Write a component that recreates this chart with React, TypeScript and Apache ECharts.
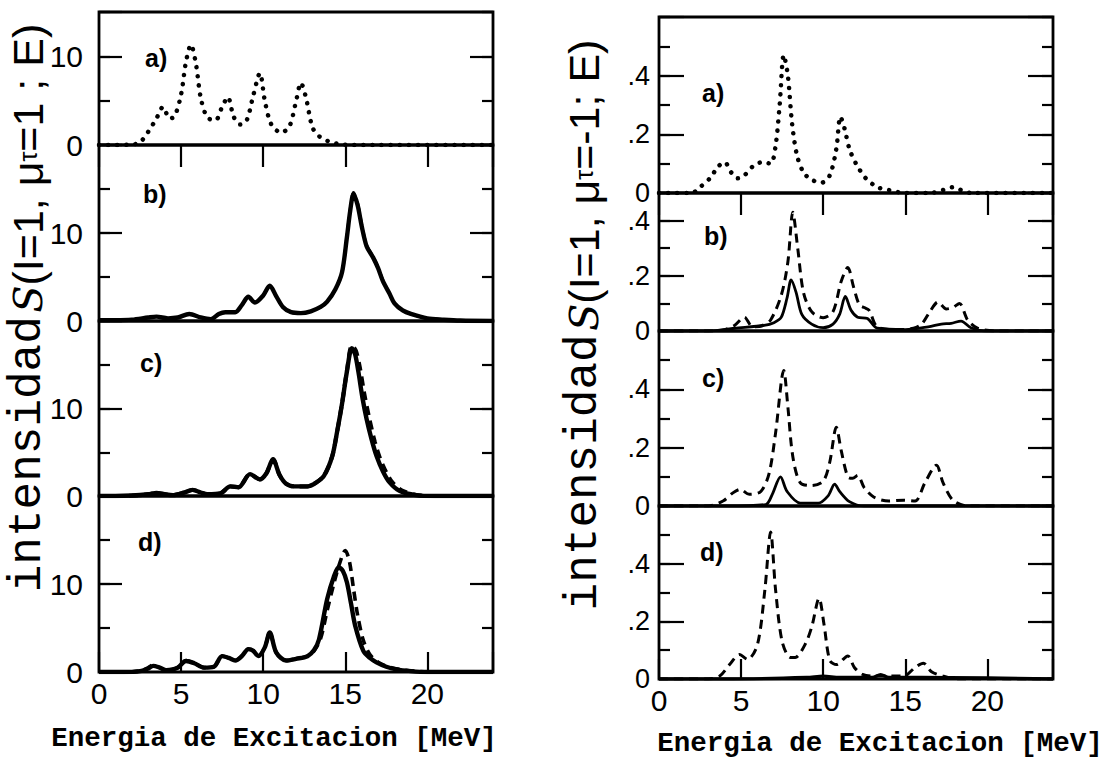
import React, { useEffect, useRef } from "react";
import * as echarts from "echarts";

// ---------- data (E in MeV, intensity) ----------
const X_TICK_LABELS = ["0", "5", "10", "15", "20"];
const LEFT_Y_LABELS = ["0", "10"];
const RIGHT_Y_LABELS = ["0", ".2", ".4"];
const PANEL_TAGS = ["a)", "b)", "c)", "d)"];
const X_TITLE = "Energia de Excitacion [MeV]";

// left column: mu_tau = 1
const leftA_dotted = [
  [0, 0], [1, 0], [2, 0.05], [2.5, 0.3], [3, 1.5], [3.5, 3.0], [3.9, 4.3], [4.3, 3.0], [4.6, 3.2],
  [5.0, 5.7], [5.3, 9.4], [5.6, 11.3], [5.9, 9.2], [6.2, 5.3], [6.6, 3.1], [7.1, 2.8], [7.5, 4.3],
  [7.85, 5.4], [8.2, 3.2], [8.6, 2.3], [9.0, 2.8], [9.4, 5.6], [9.8, 8.1], [10.1, 5.0], [10.5, 2.3],
  [11.1, 1.4], [11.6, 2.1], [12.0, 4.9], [12.3, 7.0], [12.6, 5.4], [13.0, 2.0], [13.4, 1.0],
  [14.0, 0.4], [14.7, 0.1], [15.5, 0], [24, 0],
];
const leftB_solid = [
  [0, 0.1], [1, 0.1], [2, 0.15], [3, 0.4], [3.5, 0.5], [4.2, 0.3], [4.8, 0.4], [5.5, 0.8], [6.2, 0.4],
  [6.8, 0.2], [7.3, 0.8], [7.7, 1.0], [8.3, 1.0], [8.7, 1.8], [9.1, 2.75], [9.5, 2.1], [10.0, 2.9],
  [10.4, 4.0], [10.8, 2.8], [11.2, 1.6], [11.7, 1.0], [12.3, 0.9], [12.9, 1.1], [13.5, 1.6], [13.9, 2.2],
  [14.4, 3.6], [14.8, 5.5], [15.1, 9.5], [15.3, 12.5], [15.5, 14.4], [15.75, 13.2], [16.0, 10.8],
  [16.3, 8.5], [16.7, 7.2], [17.0, 6.0], [17.3, 4.5], [17.7, 3.1], [18.0, 2.0], [18.5, 1.2], [19.0, 0.8],
  [20.0, 0.3], [21, 0.15], [22, 0.05], [24, 0],
];
const leftB_dashed = [
  [0, 0.1], [1, 0.1], [2, 0.15], [3, 0.4], [3.5, 0.5], [4.2, 0.3], [4.8, 0.4], [5.5, 0.8], [6.2, 0.4],
  [6.8, 0.2], [7.3, 0.8], [7.7, 1.0], [8.3, 1.0], [8.7, 1.8], [9.1, 2.75], [9.5, 2.1], [10.0, 2.9],
  [10.4, 4.0], [10.8, 2.8], [11.2, 1.6], [11.7, 1.0], [12.3, 0.9], [12.9, 1.1], [13.5, 1.6], [13.9, 2.2],
  [14.4, 3.6], [14.8, 5.5], [15.1, 9.6], [15.3, 12.7], [15.5, 14.6], [15.75, 13.4], [16.0, 11.0],
  [16.3, 8.6], [16.7, 7.3], [17.0, 6.1], [17.3, 4.6], [17.7, 3.1], [18.0, 2.0], [18.5, 1.2], [19.0, 0.8],
  [20.0, 0.3], [21, 0.15], [22, 0.05], [24, 0],
];
const leftC_solid = [
  [0, 0], [1, 0], [2, 0.05], [3, 0.2], [3.5, 0.35], [4.0, 0.2], [4.5, 0.1], [5.2, 0.4], [5.7, 0.7],
  [6.2, 0.4], [6.6, 0.2], [7.4, 0.3], [8.0, 1.1], [8.5, 1.0], [9.2, 2.5], [9.8, 1.9], [10.2, 2.6],
  [10.6, 4.2], [11.0, 2.4], [11.4, 1.4], [11.9, 1.1], [12.7, 1.1], [13.2, 1.5], [13.7, 2.3], [14.2, 4.5],
  [14.5, 7.3], [14.8, 10.5], [15.1, 14.2], [15.4, 16.9], [15.6, 16.2], [15.8, 14.2], [16.05, 11.2],
  [16.3, 8.8], [16.6, 6.5], [16.9, 4.6], [17.3, 2.8], [17.7, 1.55], [18.3, 0.6], [19.3, 0.1], [20.5, 0],
  [24, 0],
];
const leftC_dashed = [
  [0, 0], [1, 0], [2, 0.05], [3, 0.2], [3.5, 0.35], [4.0, 0.2], [4.5, 0.1], [5.2, 0.4], [5.7, 0.7],
  [6.2, 0.4], [6.6, 0.2], [7.4, 0.3], [8.0, 1.1], [8.5, 1.0], [9.2, 2.5], [9.8, 1.9], [10.2, 2.6],
  [10.6, 4.2], [11.0, 2.4], [11.4, 1.4], [11.9, 1.1], [12.7, 1.1], [13.2, 1.5], [13.7, 2.3], [14.2, 4.5],
  [14.5, 7.3], [14.8, 10.5], [15.1, 14.3], [15.4, 17.2], [15.65, 16.6], [15.9, 14.6], [16.15, 11.8],
  [16.45, 9.0], [16.8, 6.2], [17.1, 4.4], [17.5, 2.7], [17.9, 1.5], [18.5, 0.6], [19.4, 0.1], [20.5, 0],
  [24, 0],
];
const leftD_solid = [
  [0, 0], [1.5, 0], [2.5, 0.1], [3.0, 0.4], [3.3, 0.7], [3.7, 0.5], [4.1, 0.2], [4.5, 0.3], [4.8, 0.5],
  [5.3, 1.25], [5.8, 1.0], [6.4, 0.5], [7.0, 0.6], [7.5, 1.8], [7.9, 1.6], [8.3, 1.3], [8.7, 1.8],
  [9.1, 2.6], [9.4, 2.4], [9.7, 1.8], [10.1, 2.8], [10.4, 4.5], [10.8, 2.2], [11.4, 1.3], [12.0, 1.5],
  [12.7, 1.8], [13.1, 2.5], [13.4, 3.7], [13.9, 8.3], [14.3, 10.8], [14.6, 11.9], [14.85, 11.5],
  [15.1, 10.2], [15.35, 7.8], [15.6, 5.3], [16.1, 2.4], [16.5, 1.6], [16.9, 1.1], [17.5, 0.6],
  [18.1, 0.3], [19, 0.1], [20, 0], [24, 0],
];
const leftD_dashed = [
  [0, 0], [1.5, 0], [2.5, 0.1], [3.0, 0.5], [3.3, 0.8], [3.7, 0.5], [4.1, 0.2], [4.5, 0.3], [4.8, 0.5],
  [5.3, 1.3], [5.8, 1.0], [6.4, 0.5], [7.0, 0.6], [7.5, 1.8], [7.9, 1.6], [8.3, 1.3], [8.7, 1.8],
  [9.1, 2.6], [9.4, 2.4], [9.7, 1.8], [10.1, 2.8], [10.4, 4.5], [10.8, 2.2], [11.4, 1.3], [12.0, 1.5],
  [12.7, 1.8], [13.1, 2.4], [13.5, 3.8], [13.9, 7.0], [14.3, 10.0], [14.65, 12.3], [15.0, 13.8],
  [15.25, 12.6], [15.5, 9.5], [15.75, 6.5], [16.1, 3.6], [16.5, 2.0], [17.0, 1.1], [17.6, 0.6],
  [18.3, 0.3], [19.2, 0.1], [20, 0], [24, 0],
];

// right column: mu_tau = -1
const rightA_dotted = [
  [0, 0], [1, 0], [2, 0], [2.5, 0.02], [3.1, 0.05], [3.6, 0.09], [4.0, 0.105], [4.4, 0.07], [4.8, 0.05],
  [5.2, 0.06], [5.8, 0.095], [6.3, 0.105], [6.8, 0.1], [7.1, 0.16], [7.35, 0.3], [7.6, 0.47], [7.85, 0.4],
  [8.1, 0.24], [8.4, 0.13], [8.8, 0.07], [9.3, 0.045], [9.9, 0.035], [10.4, 0.06], [10.8, 0.15],
  [11.05, 0.26], [11.3, 0.22], [11.6, 0.15], [12.0, 0.1], [12.6, 0.05], [13.3, 0.02], [14, 0.01],
  [15, 0], [16.5, 0], [17.3, 0.01], [17.9, 0.02], [18.4, 0.01], [19, 0], [24, 0],
];
const rightB_dashed = [
  [0, 0], [3, 0], [4.0, 0.005], [4.6, 0.02], [5.2, 0.05], [5.7, 0.015], [6.3, 0.02], [6.8, 0.04],
  [7.45, 0.13], [7.85, 0.25], [8.15, 0.43], [8.45, 0.3], [8.8, 0.14], [9.3, 0.07], [10.0, 0.048],
  [10.6, 0.07], [11.1, 0.18], [11.5, 0.23], [11.85, 0.16], [12.2, 0.095], [12.5, 0.085], [12.8, 0.075],
  [13.3, 0.015], [14.5, 0.005], [15.5, 0.01], [16.0, 0.025], [16.5, 0.07], [17.0, 0.105], [17.5, 0.08],
  [17.9, 0.085], [18.3, 0.1], [18.8, 0.04], [19.4, 0.01], [20.5, 0], [24, 0],
];
const rightB_solid = [
  [0, 0], [3, 0], [4.6, 0.01], [6.4, 0.02], [7.0, 0.03], [7.45, 0.05], [7.8, 0.12], [8.05, 0.185],
  [8.35, 0.14], [8.7, 0.06], [9.3, 0.025], [10.0, 0.012], [10.6, 0.025], [11.0, 0.06], [11.35, 0.125],
  [11.7, 0.075], [12.1, 0.05], [12.7, 0.045], [13.3, 0.01], [15, 0.005], [16.4, 0.015], [17.2, 0.025],
  [17.8, 0.028], [18.4, 0.036], [19.0, 0.012], [20, 0], [24, 0],
];
const rightC_dashed = [
  [0, 0], [3, 0], [3.9, 0.017], [4.5, 0.045], [4.95, 0.057], [5.5, 0.04], [6.2, 0.05], [6.7, 0.11],
  [7.1, 0.25], [7.6, 0.465], [7.85, 0.34], [8.15, 0.17], [8.6, 0.08], [9.3, 0.07], [10.0, 0.085],
  [10.4, 0.15], [10.8, 0.27], [11.1, 0.19], [11.5, 0.1], [11.8, 0.095], [12.1, 0.105], [12.5, 0.063],
  [13.1, 0.03], [14.0, 0.017], [14.9, 0.02], [15.6, 0.017], [16.2, 0.08], [16.9, 0.14], [17.3, 0.08],
  [17.9, 0.02], [18.8, 0], [24, 0],
];
const rightC_solid = [
  [0, 0], [4, 0], [6.5, 0.005], [6.9, 0.04], [7.4, 0.1], [7.8, 0.05], [8.6, 0.01], [9.7, 0.01],
  [10.3, 0.035], [10.7, 0.075], [11.0, 0.05], [11.6, 0.015], [12.5, 0], [24, 0],
];
const rightD_dashed = [
  [0, 0], [3, 0], [3.7, 0.01], [4.3, 0.05], [4.9, 0.085], [5.4, 0.068], [6.0, 0.12], [6.45, 0.31],
  [6.8, 0.51], [7.1, 0.31], [7.5, 0.13], [8.0, 0.075], [8.3, 0.075], [8.9, 0.12], [9.3, 0.18],
  [9.75, 0.28], [10.05, 0.19], [10.4, 0.065], [10.8, 0.05], [11.5, 0.08], [11.9, 0.04], [12.4, 0.016],
  [13.2, 0.01], [14.9, 0.01], [15.6, 0.04], [16.1, 0.055], [16.6, 0.025], [17.3, 0.01], [18.2, 0], [24, 0],
];
const rightD_solid = [
  [0, 0], [4, 0], [9, 0.005], [10, 0.01], [11, 0.005], [13, 0.005], [13.5, 0.015], [14, 0.005],
  [16, 0.005], [24, 0],
];

// ---------- layout ----------
const PANEL_W = 394;
const panels = [
  { left: 99, top: 12, height: 133, max: 15, minor: 5, major: 10, col: 0 },
  { left: 99, top: 145, height: 176, max: 20, minor: 5, major: 10, col: 0 },
  { left: 99, top: 321, height: 175, max: 20, minor: 5, major: 10, col: 0 },
  { left: 99, top: 496, height: 176, max: 20, minor: 5, major: 10, col: 0 },
  { left: 659, top: 17, height: 176, max: 0.6, minor: 0.1, major: 0.2, col: 1 },
  { left: 659, top: 193, height: 138, max: 0.5, minor: 0.1, major: 0.2, col: 1 },
  { left: 659, top: 331, height: 175, max: 0.6, minor: 0.1, major: 0.2, col: 1 },
  { left: 659, top: 506, height: 173, max: 0.6, minor: 0.1, major: 0.2, col: 1 },
];
const tagPos = [
  [145, 58], [143, 194], [140, 363], [138, 542],
  [702, 93], [704, 236], [702, 378], [700, 552],
];

const SANS = "'Liberation Sans', Arial, sans-serif";
const MONO = "'Liberation Mono', 'DejaVu Sans Mono', monospace";

function yLabel(col: number) {
  return (v: number) => {
    if (col === 0) {
      const s = String(Math.round(v));
      return LEFT_Y_LABELS.includes(s) && Math.abs(v - Math.round(v)) < 1e-6 ? s : "";
    }
    const r = Math.round(v * 10);
    if (Math.abs(v * 10 - r) > 1e-6) return "";
    const s = r === 0 ? "0" : "." + r;
    return RIGHT_Y_LABELS.includes(s) ? s : "";
  };
}

function buildOption() {
  const grid: any[] = [];
  const xAxis: any[] = [];
  const yAxis: any[] = [];
  const series: any[] = [];
  const tick = (len: number) => ({
    show: true, inside: true, length: len, lineStyle: { color: "#000", width: 2.2 },
  });

  panels.forEach((p, i) => {
    grid.push({
      left: p.left, top: p.top, width: PANEL_W, height: p.height,
      show: true, borderColor: "#000", borderWidth: 2.8, backgroundColor: "transparent",
    });
    const isBottom = i % 4 === 3;
    xAxis.push({
      gridIndex: i, type: "value", min: 0, max: 24, interval: 5,
      axisLine: { show: false }, splitLine: { show: false },
      axisTick: isBottom ? tick(20) : { show: false },
      axisLabel: {
        show: isBottom, margin: 6, color: "#000", fontFamily: SANS, fontSize: 30,
        formatter: (v: number) => (v % 5 === 0 && X_TICK_LABELS[v / 5]) || "",
      },
    });
    const longLen = p.col === 0 ? 23 : 25;
    const shortLen = 11;
    const base = {
      gridIndex: i, type: "value", min: 0, max: p.max,
      axisLine: { show: false }, splitLine: { show: false },
    };
    // left minor (with labels)
    yAxis.push({
      ...base, position: "left", interval: p.minor, axisTick: tick(shortLen),
      axisLabel: {
        show: true, margin: p.col === 0 ? 16 : 9, color: "#000", fontFamily: SANS,
        fontSize: p.col === 0 ? 30 : 27, lineHeight: 22,
        formatter: yLabel(p.col), showMinLabel: true, showMaxLabel: true,
      },
    });
    // left major
    yAxis.push({ ...base, position: "left", interval: p.major, axisTick: tick(longLen), axisLabel: { show: false } });
    // right minor / major
    yAxis.push({ ...base, position: "right", interval: p.minor, axisTick: tick(shortLen), axisLabel: { show: false } });
    yAxis.push({ ...base, position: "right", interval: p.major, axisTick: tick(longLen), axisLabel: { show: false } });
  });
  // top ticks on the upper panels
  [0, 4].forEach((g) => {
    xAxis.push({
      gridIndex: g, type: "value", min: 0, max: 24, interval: 5, position: "top",
      axisLine: { show: false }, splitLine: { show: false },
      axisTick: tick(22), axisLabel: { show: false },
    });
  });

  const dotted = { type: [0.1, 9], cap: "round", width: 4.5, color: "#000" };
  const dashed = { type: [9, 6], width: 3, color: "#000" };
  const solidL = { type: "solid", width: 4.4, color: "#000" };
  const solidR = { type: "solid", width: 2.8, color: "#000" };
  const add = (g: number, data: number[][], ls: any) =>
    series.push({
      type: "line", xAxisIndex: g, yAxisIndex: g * 4, data, showSymbol: false, symbol: "none",
      smooth: 0.3, lineStyle: ls, silent: true, clip: true,
    });

  add(0, leftA_dotted, dotted);
  add(1, leftB_dashed, dashed);
  add(1, leftB_solid, solidL);
  add(2, leftC_dashed, { ...dashed, width: 4 });
  add(2, leftC_solid, solidL);
  add(3, leftD_dashed, { ...dashed, width: 3.6 });
  add(3, leftD_solid, solidL);
  add(4, rightA_dotted, dotted);
  add(5, rightB_dashed, dashed);
  add(5, rightB_solid, solidR);
  add(6, rightC_dashed, dashed);
  add(6, rightC_solid, solidR);
  add(7, rightD_dashed, dashed);
  add(7, rightD_solid, { ...solidR, width: 3.4 });

  const graphic: any[] = [];
  panels.forEach((_, i) => {
    graphic.push({
      type: "text", x: tagPos[i][0], y: tagPos[i][1],
      style: { text: PANEL_TAGS[i % 4], font: `bold 25px ${SANS}`, fill: "#000", verticalAlign: "middle" },
    });
  });
  graphic.push({
    type: "text", x: 274, y: 738,
    style: { text: X_TITLE, font: `bold 27.5px ${MONO}`, fill: "#000", align: "center", verticalAlign: "middle" },
  });
  graphic.push({
    type: "text", x: 880, y: 743,
    style: { text: X_TITLE, font: `bold 27.5px ${MONO}`, fill: "#000", align: "center", verticalAlign: "middle" },
  });
  const rich = {
    m: { fontFamily: MONO, fontSize: 46, fill: "#000", fontWeight: "normal" },
    g: { fontFamily: "'DejaVu Serif', serif", fontStyle: "italic", fontSize: 40, fill: "#000" },
    s: { fontFamily: SANS, fontSize: 43, fill: "#000" },
    t: { fontFamily: SANS, fontSize: 25, fill: "#000" },
  };
  graphic.push({
    type: "text", x: 28, y: 308, rotation: Math.PI / 2,
    style: {
      text: "{m|intensidad} {g|S}{s|(I=1, μ}{t|τ}{s|=1 ; E)}", rich,
      align: "center", verticalAlign: "middle",
    },
  });
  graphic.push({
    type: "text", x: 584, y: 325, rotation: Math.PI / 2,
    style: {
      text: "{m|intensidad} {g|S}{s|(I=1, μ}{t|τ}{s|=-1; E)}", rich,
      align: "center", verticalAlign: "middle",
    },
  });

  return { animation: false, backgroundColor: "#fff", grid, xAxis, yAxis, series, graphic };
}

export default function App() {
  const ref = useRef<HTMLDivElement>(null);
  useEffect(() => {
    const chart = echarts.init(ref.current!, null, { renderer: "svg" });
    chart.setOption(buildOption() as any);
    return () => chart.dispose();
  }, []);
  return (
    <div
      ref={ref}
      style={{ position: "absolute", left: 0, top: 0, width: 1111, height: 775, background: "#fff" }}
    />
  );
}
